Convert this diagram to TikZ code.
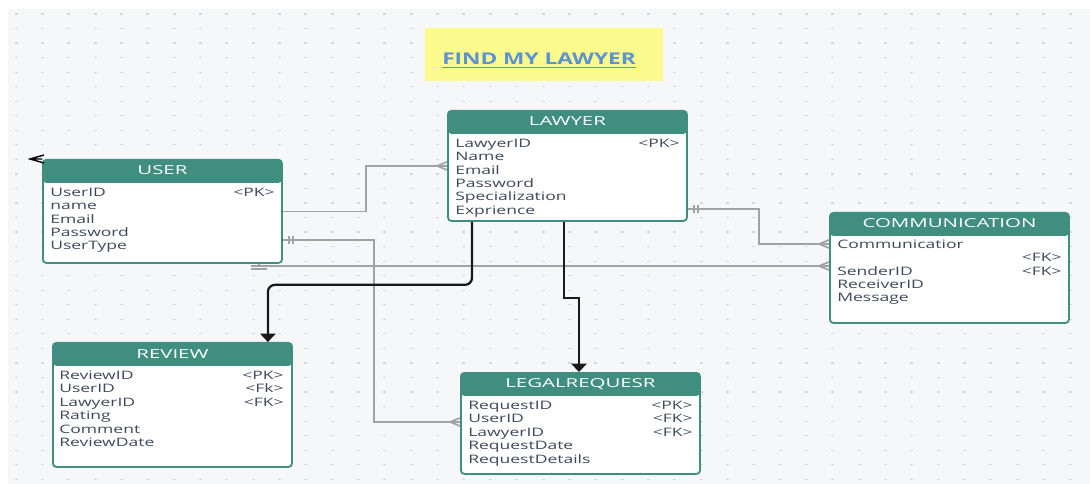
\documentclass[tikz,border=0pt]{standalone}
\usepackage{fontspec}
\newfontfamily\erfont{Open Sans}[FakeStretch=1.5]
\newfontfamily\erheadfont{Open Sans}[FakeStretch=1.65]
\newfontfamily\ertitlefont{Open Sans}[FakeStretch=1.4]
\usepackage{tikz}
\usetikzlibrary{calc,arrows.meta,positioning}
\definecolor{erteal}{HTML}{3F8E7F}
\definecolor{ertext}{HTML}{3C485C}
\definecolor{erline}{HTML}{A2A2A2}
\definecolor{ercanvas}{HTML}{F6F7F9}
\definecolor{erdot}{HTML}{D5D6D9}
\definecolor{titlebg}{HTML}{FCFA8C}
\definecolor{titleblue}{HTML}{5B92D2}

\begin{document}
\begin{tikzpicture}[x=0.025cm, y=-0.025cm,
  entity/.style={draw=erteal, line width=1.3pt, fill=white, rounded corners=2.5pt,
    anchor=north west, inner sep=0pt, minimum width=5.975cm,
    path picture={\fill[erteal] (path picture bounding box.north west)
      rectangle ([yshift=-0.575cm]path picture bounding box.north east);}},
  head/.style={anchor=base, inner sep=0pt, text=white,
    font=\erheadfont\fontsize{8.8}{10}\selectfont},
  field/.style={anchor=base west, inner sep=0pt, text=ertext,
    font=\erfont\fontsize{8.3}{10}\selectfont},
  key/.style={field, anchor=base east},
  rel/.style={draw=erline, line width=1.2pt},
  flow/.style={draw=black!90, line width=1.6pt, -{Triangle[width=11pt,length=6pt]}},
  crow/.pic={\draw[rel] (-10,0) -- (0,-4) (-10,0) -- (0,4) (-10,0) -- (0,0);},
  bars/.pic={\draw[rel] (6,-4) -- (6,4) (10,-4) -- (10,4);},
  barsdown/.pic={\draw[rel] (-8,2) -- (8,2) (-8,5) -- (8,5);}]
\useasboundingbox (0,0) rectangle (1090,484);
\fill[white] (0,0) rectangle (1090,484);
\fill[ercanvas] (8,9) rectangle (1090,484);
\foreach \i in {0,...,40}
  \foreach \j in {0,...,32}
    \fill[erdot] ({14.5+26.35*\i},{13.4+14.54*\j}) rectangle ++(3,1.2);

\node[fill=titlebg, minimum width=5.95cm, minimum height=1.325cm, anchor=north west] (title) at (425,28) {};
\node[anchor=base, inner sep=0pt, text=titleblue,
  font=\ertitlefont\bfseries\fontsize{11.5}{13}\selectfont] (title-t) at (539,65) {\underline{FIND MY LAWYER}};

\node[entity, minimum height=2.75cm] (lawyer) at (447,110) {};
\node[head] (lawyer-t) at ($(lawyer.north)+(0,16)$) {LAWYER};
\foreach \f [count=\i] in {LawyerID,Name,Email,Password,Specialization,Exprience}
  \node[field] (lawyer-\i) at ($(lawyer.north west)+(8,{24+13.4*\i})$) {\f};
\node[key] (lawyer-k1) at ($(lawyer.north east)+(-8,37.4)$) {<PK>};

\node[entity, minimum height=2.575cm] (user) at (42,159) {};
\node[head] (user-t) at ($(user.north)+(0,16)$) {USER};
\foreach \f [count=\i] in {UserID,name,Email,Password,UserType}
  \node[field] (user-\i) at ($(user.north west)+(8,{24+13.4*\i})$) {\f};
\node[key] (user-k1) at ($(user.north east)+(-8,37.4)$) {<PK>};

\node[entity, minimum height=2.75cm] (comm) at (829,212) {};
\node[head] (comm-t) at ($(comm.north)+(0,16)$) {COMMUNICATION};
\foreach \f [count=\i] in {Communicatior,{},SenderID,ReceiverID,Message}
  \node[field] (comm-\i) at ($(comm.north west)+(8,{23+13.4*\i})$) {\f};
\foreach \k [count=\i from 2] in {<FK>,<FK>}
  \node[key] (comm-k\i) at ($(comm.north east)+(-8,{23+13.4*\i})$) {\k};

\node[entity, minimum height=3.1cm] (review) at (52,342) {};
\node[head] (review-t) at ($(review.north)+(0,16)$) {REVIEW};
\foreach \f [count=\i] in {ReviewID,UserID,LawyerID,Rating,Comment,ReviewDate}
  \node[field] (review-\i) at ($(review.north west)+(7,{24+13.4*\i})$) {\f};
\foreach \k [count=\i] in {<PK>,<Fk>,<FK>}
  \node[key] (review-k\i) at ($(review.north east)+(-9,{24+13.4*\i})$) {\k};

\node[entity, minimum height=2.525cm] (legal) at (460,372) {};
\node[head] (legal-t) at ($(legal.north)+(0,16)$) {LEGALREQUESR};
\foreach \f [count=\i] in {RequestID,UserID,LawyerID,RequestDate,RequestDetails}
  \node[field] (legal-\i) at ($(legal.north west)+(8,{24+13.4*\i})$) {\f};
\foreach \k [count=\i] in {<PK>,<FK>,<FK>}
  \node[key] (legal-k\i) at ($(legal.north east)+(-8,{24+13.4*\i})$) {\k};

\draw[rel] (user.east) -- ++(83,0) |- (lawyer.west);
\pic at (lawyer.west) {crow};
\draw[rel] ($(user.north east)+(0,81)$) -- ++(91,0) |- ($(legal.north west)+(0,50)$);
\pic at ($(user.north east)+(0,81)$) {bars};
\pic at ($(legal.north west)+(0,50)$) {crow};
\draw[rel] ($(user.south east)+(-24,0)$) |- ($(comm.north west)+(0,54)$);
\pic at ($(user.south east)+(-24,0)$) {barsdown};
\pic at ($(comm.north west)+(0,54)$) {crow};
\draw[rel] ($(lawyer.north east)+(0,99)$) -- ++(71,0) |- ($(comm.north west)+(0,32)$);
\pic at ($(lawyer.north east)+(0,99)$) {bars};
\pic at ($(comm.north west)+(0,32)$) {crow};

\draw[flow, rounded corners=5pt] ($(lawyer.south west)+(25,0)$) -- ++(0,63) -| ($(review.north east)+(-25,0)$);
\draw[flow] ($(lawyer.south west)+(117,0)$) -- ++(0,76) -| ($(legal.north west)+(119,0)$);

\draw[line width=1pt] (44,155) -- (30,159) -- (44,163) (30,159) -- (42,159);
\end{tikzpicture}
\end{document}
